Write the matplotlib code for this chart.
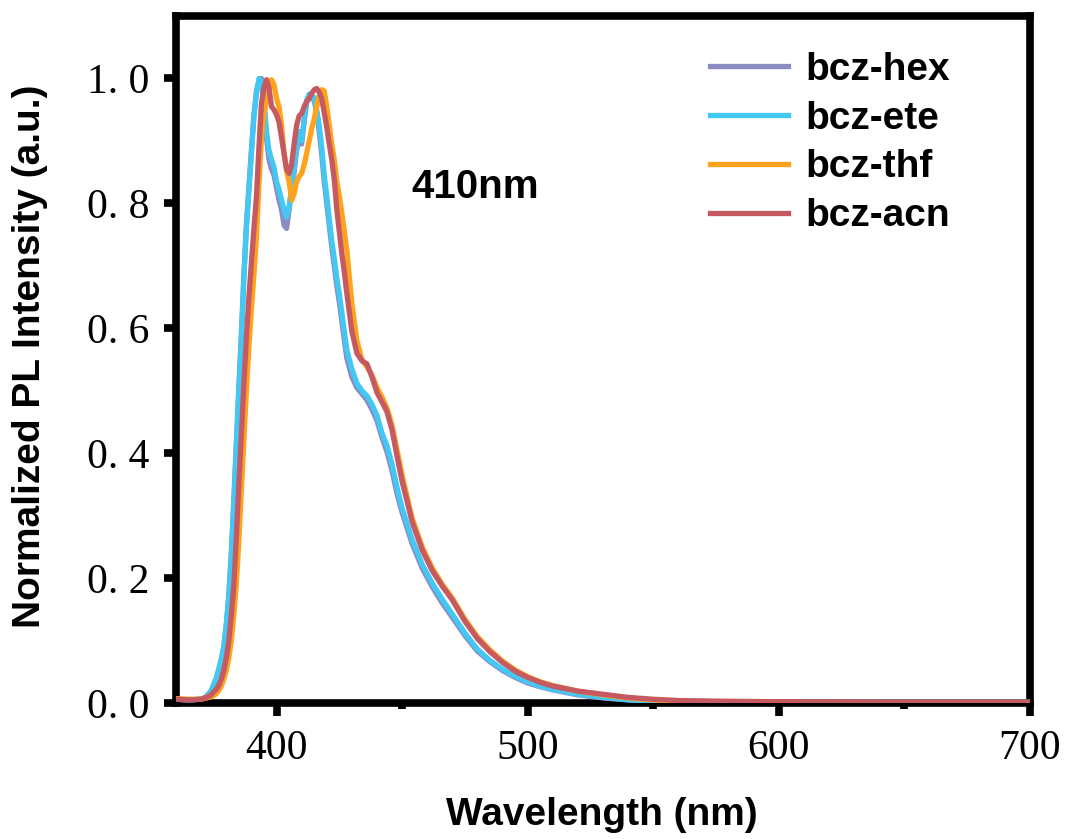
import matplotlib
matplotlib.use("Agg")
import matplotlib.pyplot as plt
from matplotlib.ticker import MultipleLocator, FixedLocator, FixedFormatter

# wavelength grid (nm)
wl = ([360, 365, 370, 372, 374]
      + list(range(375, 429))
      + [430, 432, 434, 436, 438, 440, 442, 444, 446, 448, 450,
         454, 458, 462, 466, 470, 475, 480, 485, 490, 495, 500, 505,
         510, 520, 530, 540, 550, 560, 575, 600, 650, 700])

bcz_hex = [0.006, 0.005, 0.006, 0.010, 0.019,
           0.028, 0.038, 0.052, 0.068, 0.090, 0.125, 0.172, 0.240, 0.325, 0.415,
           0.505, 0.590, 0.685, 0.765, 0.825, 0.885, 0.940, 0.980, 0.995, 1.000,
           0.960, 0.905, 0.870, 0.855, 0.845, 0.825, 0.805, 0.790, 0.765, 0.760,
           0.790, 0.820, 0.850, 0.885, 0.905, 0.895, 0.930, 0.962, 0.970, 0.968,
           0.965, 0.945, 0.915, 0.878, 0.835, 0.800, 0.765, 0.730, 0.700, 0.668,
           0.642, 0.612, 0.582, 0.552,
           0.522, 0.505, 0.495, 0.485, 0.470, 0.452, 0.425, 0.402, 0.372, 0.335, 0.305,
           0.255, 0.216, 0.186, 0.160, 0.137, 0.108, 0.083, 0.066, 0.052, 0.041, 0.032, 0.026,
           0.021, 0.013, 0.008, 0.005, 0.003, 0.002, 0.001, 0.001, 0.001, 0.001]

bcz_ete = [0.006, 0.005, 0.006, 0.010, 0.020,
           0.030, 0.040, 0.055, 0.070, 0.090, 0.125, 0.170, 0.235, 0.320, 0.410,
           0.500, 0.580, 0.680, 0.760, 0.820, 0.880, 0.940, 0.975, 1.000, 0.995,
           0.965, 0.915, 0.885, 0.870, 0.858, 0.835, 0.822, 0.805, 0.790, 0.778,
           0.795, 0.825, 0.855, 0.890, 0.915, 0.900, 0.935, 0.965, 0.975, 0.972,
           0.970, 0.950, 0.925, 0.890, 0.845, 0.812, 0.775, 0.740, 0.712, 0.680,
           0.655, 0.625, 0.595, 0.565,
           0.535, 0.512, 0.500, 0.492, 0.478, 0.460, 0.432, 0.412, 0.382, 0.345, 0.312,
           0.262, 0.222, 0.192, 0.166, 0.142, 0.112, 0.086, 0.068, 0.054, 0.043, 0.034, 0.027,
           0.022, 0.014, 0.009, 0.005, 0.003, 0.002, 0.001, 0.001, 0.001, 0.001]

bcz_thf = [0.007, 0.006, 0.006, 0.008, 0.010,
           0.012, 0.015, 0.020, 0.027, 0.038, 0.052, 0.072, 0.100, 0.140, 0.190,
           0.260, 0.340, 0.420, 0.500, 0.570, 0.630, 0.685, 0.745, 0.830, 0.905,
           0.945, 0.965, 0.980, 0.998, 0.990, 0.968, 0.955, 0.925, 0.880, 0.852,
           0.835, 0.805, 0.815, 0.835, 0.843, 0.848, 0.862, 0.880, 0.900, 0.920,
           0.935, 0.955, 0.972, 0.982, 0.980, 0.955, 0.925, 0.895, 0.870, 0.835,
           0.812, 0.785, 0.755, 0.725,
           0.640, 0.580, 0.550, 0.538, 0.525, 0.505, 0.490, 0.472, 0.445, 0.405, 0.365,
           0.296, 0.250, 0.216, 0.190, 0.168, 0.134, 0.106, 0.085, 0.067, 0.053, 0.042, 0.034,
           0.028, 0.019, 0.013, 0.008, 0.005, 0.003, 0.002, 0.001, 0.001, 0.001]

bcz_acn = [0.006, 0.005, 0.006, 0.009, 0.013,
           0.018, 0.022, 0.028, 0.038, 0.052, 0.072, 0.100, 0.140, 0.190, 0.265,
           0.350, 0.430, 0.510, 0.585, 0.650, 0.705, 0.760, 0.810, 0.890, 0.960,
           0.985, 0.998, 0.985, 0.955, 0.950, 0.942, 0.930, 0.905, 0.880, 0.855,
           0.848, 0.862, 0.895, 0.925, 0.940, 0.944, 0.955, 0.963, 0.968, 0.976,
           0.982, 0.984, 0.978, 0.968, 0.945, 0.922, 0.895, 0.870, 0.838, 0.790,
           0.755, 0.720, 0.690, 0.656,
           0.595, 0.560, 0.548, 0.543, 0.522, 0.497, 0.482, 0.466, 0.437, 0.395, 0.355,
           0.290, 0.245, 0.212, 0.187, 0.165, 0.131, 0.103, 0.082, 0.065, 0.051, 0.041, 0.033,
           0.027, 0.019, 0.014, 0.009, 0.006, 0.004, 0.003, 0.002, 0.001, 0.001]

series = ["bcz-hex", "bcz-ete", "bcz-thf", "bcz-acn"]
valores = [bcz_hex, bcz_ete, bcz_thf, bcz_acn]
colores = ["#8C8CC4", "#42C8F2", "#FFA21C", "#C65A62"]

xticks = [400, 500, 600, 700]
yticks = [0.0, 0.2, 0.4, 0.6, 0.8, 1.0]
ytick_labels = ["0. 0", "0. 2", "0. 4", "0. 6", "0. 8", "1. 0"]

fig = plt.figure(figsize=(10.67, 8.39), dpi=100)
ax = fig.add_axes([0.165, 0.1621, 0.8003, 0.8188])

for nombre, y, c in zip(series, valores, colores):
    ax.plot(wl, y, color=c, lw=3.8, label=nombre, zorder=3)

ax.set_xlim(360, 700)
ax.set_ylim(0, 1.1)

ax.xaxis.set_major_locator(FixedLocator(xticks))
ax.xaxis.set_minor_locator(MultipleLocator(50))
ax.yaxis.set_major_locator(FixedLocator(yticks))
ax.yaxis.set_major_formatter(FixedFormatter(ytick_labels))

for s in ax.spines.values():
    s.set_linewidth(5.5)
ax.tick_params(which="major", direction="out", length=9, width=5.5, pad=10,
               labelsize=30)
ax.tick_params(which="minor", direction="out", length=4.5, width=5.5)
ax.tick_params(axis="y", pad=10)
for lab in ax.get_xticklabels() + ax.get_yticklabels():
    lab.set_fontfamily("Liberation Serif")

ax.set_xlabel("Wavelength (nm)", fontsize=28, fontweight="bold",
              family="Liberation Sans", va="center")
ax.xaxis.set_label_coords(0.4988, -0.163)
ax.set_ylabel("Normalized PL Intensity (a.u.)", fontsize=28, fontweight="bold",
              family="Liberation Sans", va="center", ha="center",
              rotation_mode="anchor")
ax.yaxis.set_label_coords(-0.171, 0.505)

# anotacion de la longitud de onda de excitacion
ax.text(479, 0.826, "410nm", fontsize=29, fontweight="bold",
        family="Liberation Sans", ha="center", va="center")

ax.legend(loc="upper left", bbox_to_anchor=(0.625, 0.948), frameon=False,
          prop={"family": "Liberation Sans", "weight": "bold", "size": 28},
          handlelength=2.0, handletextpad=0.45, labelspacing=0.33,
          borderpad=0, borderaxespad=0)

fig.savefig("out.png", dpi=100)
